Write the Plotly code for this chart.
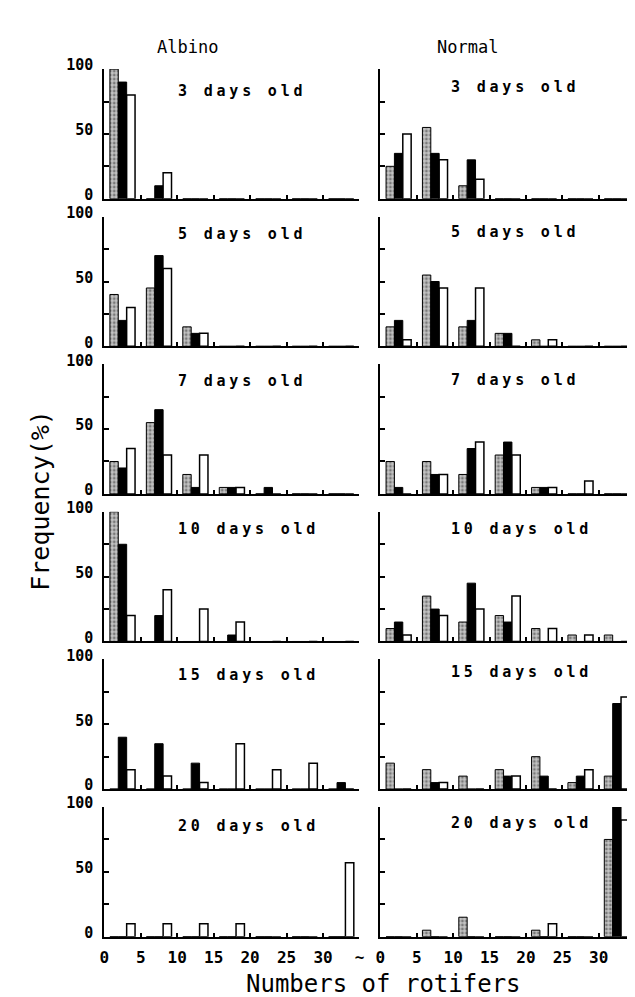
import plotly.graph_objects as go

# ---------------- data ----------------
bin_centers = [2.5, 7.5, 12.5, 17.5, 22.5, 27.5, 32.5]
x_tickvals = [0, 5, 10, 15, 20, 25, 30, 35]
x_ticktext = ["0", "5", "10", "15", "20", "25", "30", "~"]
y_tickvals = [0, 25, 50, 75, 100]
y_ticktext = ["0", "", "50", "", "100"]
ages = ["3 days old", "5 days old", "7 days old", "10 days old", "15 days old", "20 days old"]
columns = ["Albino", "Normal"]

albino_gray = [
    [100, 0, 0, 0, 0, 0, 0],
    [40, 45, 15, 0, 0, 0, 0],
    [25, 55, 15, 5, 0, 0, 0],
    [100, 0, 0, 0, 0, 0, 0],
    [0, 0, 0, 0, 0, 0, 0],
    [0, 0, 0, 0, 0, 0, 0],
]
albino_black = [
    [90, 10, 0, 0, 0, 0, 0],
    [20, 70, 10, 0, 0, 0, 0],
    [20, 65, 5, 5, 5, 0, 0],
    [75, 20, 0, 5, 0, 0, 0],
    [40, 35, 20, 0, 0, 0, 5],
    [0, 0, 0, 0, 0, 0, 0],
]
albino_white = [
    [80, 20, 0, 0, 0, 0, 0],
    [30, 60, 10, 0, 0, 0, 0],
    [35, 30, 30, 5, 0, 0, 0],
    [20, 40, 25, 15, 0, 0, 0],
    [15, 10, 5, 35, 15, 20, 0],
    [10, 10, 10, 10, 0, 0, 57],
]
normal_gray = [
    [25, 55, 10, 0, 0, 0, 0],
    [15, 55, 15, 10, 5, 0, 0],
    [25, 25, 15, 30, 5, 0, 0],
    [10, 35, 15, 20, 10, 5, 5],
    [20, 15, 10, 15, 25, 5, 10],
    [0, 5, 15, 0, 5, 0, 75],
]
normal_black = [
    [35, 35, 30, 0, 0, 0, 0],
    [20, 50, 20, 10, 0, 0, 0],
    [5, 15, 35, 40, 5, 0, 0],
    [15, 25, 45, 15, 0, 0, 0],
    [0, 5, 0, 10, 10, 10, 66],
    [0, 0, 0, 0, 0, 0, 100],
]
normal_white = [
    [50, 30, 15, 0, 0, 0, 0],
    [5, 45, 45, 0, 5, 0, 0],
    [0, 15, 40, 30, 5, 10, 0],
    [5, 20, 25, 35, 10, 5, 0],
    [0, 5, 0, 10, 0, 15, 71],
    [0, 0, 0, 0, 10, 0, 90],
]

# ---------------- layout geometry ----------------
W, H = 635, 997
col_px = [(92.7, 352.0), (373.3, 632.0)]
row_zero0, row_top0, row_pitch = 181.0, 49.0, 150.3
title_y = [[83, 87, 87, 87, 88, 85], [86, 88, 88, 87, 90, 88]]

MONO = "DejaVu Sans Mono"
fig = go.Figure()
layout = dict(
    width=W, height=H, margin=dict(l=0, r=0, t=0, b=0),
    paper_bgcolor="white", plot_bgcolor="white",
    barmode="group", bargap=0.31, bargroupgap=0.0,
    showlegend=False,
    font=dict(family=MONO, color="black"),
)
annotations = []

series_sets = [
    (albino_gray, albino_black, albino_white),
    (normal_gray, normal_black, normal_white),
]

for r in range(6):
    for c in range(2):
        n = r * 2 + c + 1
        xa = "x" if n == 1 else f"x{n}"
        ya = "y" if n == 1 else f"y{n}"
        gray, black, white = series_sets[c]
        fig.add_trace(go.Bar(
            x=bin_centers, y=gray[r], xaxis=xa, yaxis=ya,
            marker=dict(color="#a8a8a8", line=dict(color="black", width=1),
                        pattern=dict(shape=".", fgcolor="#2e2e2e", bgcolor="#c4c4c4",
                                     size=4, solidity=0.4)),
        ))
        fig.add_trace(go.Bar(
            x=bin_centers, y=black[r], xaxis=xa, yaxis=ya,
            marker=dict(color="black", line=dict(color="black", width=1)),
        ))
        fig.add_trace(go.Bar(
            x=bin_centers, y=white[r], xaxis=xa, yaxis=ya,
            marker=dict(color="white", line=dict(color="black", width=1.5)),
        ))

        x0, x1 = col_px[c]
        yz = row_zero0 + row_pitch * r
        yt = row_top0 + row_pitch * r
        bottom = (r == 5)
        xkey = "xaxis" if n == 1 else f"xaxis{n}"
        ykey = "yaxis" if n == 1 else f"yaxis{n}"
        layout[xkey] = dict(
            domain=[x0 / W, x1 / W], anchor=ya, range=[0, 35],
            showline=True, linecolor="black", linewidth=2, mirror=False,
            showgrid=False, zeroline=False,
            tickmode="array",
            tickvals=x_tickvals if bottom else x_tickvals[1:],
            ticktext=x_ticktext if bottom else [""] * 7,
            showticklabels=bottom,
            ticks="inside", ticklen=4, tickwidth=2, tickcolor="black",
            tickfont=dict(family=MONO, size=16, weight="bold"),
            ticklabelstandoff=5,
            fixedrange=True,
        )
        layout[ykey] = dict(
            domain=[1 - yz / H, 1 - yt / H], anchor=xa, range=[0, 100],
            showline=True, linecolor="black", linewidth=2,
            showgrid=False, zeroline=False,
            tickmode="array", tickvals=y_tickvals,
            ticktext=y_ticktext if c == 0 else [""] * 5,
            showticklabels=(c == 0),
            ticks="inside", ticklen=5, tickwidth=1.5, tickcolor="black",
            tickfont=dict(family=MONO, size=15, weight="bold"),
            ticklabelstandoff=6, ticklabelshift=-4,
            fixedrange=True,
        )
        annotations.append(dict(
            xref=xa, yref=ya, x=9.8 if c == 0 else 9.4, y=title_y[c][r],
            xanchor="left", yanchor="middle", showarrow=False,
            text=f'<span style="letter-spacing:3.8px">{ages[r]}</span>',
            font=dict(family=MONO, size=15, weight="bold", color="black"),
        ))

# column titles
annotations.append(dict(xref="paper", yref="paper", x=177 / W, y=1 - 26 / H,
                        xanchor="center", yanchor="middle", showarrow=False,
                        text=columns[0], font=dict(family=MONO, size=17)))
annotations.append(dict(xref="paper", yref="paper", x=462 / W, y=1 - 26 / H,
                        xanchor="center", yanchor="middle", showarrow=False,
                        text=columns[1], font=dict(family=MONO, size=17)))
# axis titles
annotations.append(dict(xref="paper", yref="paper", x=28 / W, y=1 - 488 / H,
                        xanchor="center", yanchor="middle", showarrow=False,
                        textangle=-90, text="Frequency(%)",
                        font=dict(family=MONO, size=25)))
annotations.append(dict(xref="paper", yref="paper", x=376 / W, y=1 - 981 / H,
                        xanchor="center", yanchor="middle", showarrow=False,
                        text="Numbers of rotifers",
                        font=dict(family=MONO, size=24)))

layout["annotations"] = annotations
fig.update_layout(**layout)
fig.write_html("out.html")
